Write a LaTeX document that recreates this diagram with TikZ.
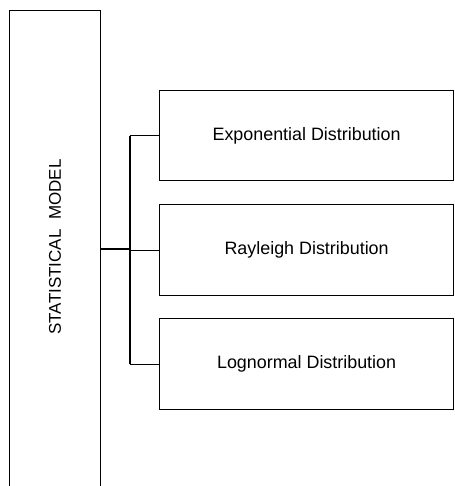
\documentclass[tikz,border=0pt]{standalone}
\usepackage{fontspec}
\setmainfont{Liberation Sans}
\begin{document}
\begin{tikzpicture}[x=1pt,y=-1pt,
  boxstyle/.style={draw=black,line width=1.2pt,rectangle,inner sep=0pt},
  conn/.style={draw=black,line width=1.2pt},
  lbl/.style={font=\fontsize{17.9}{20}\selectfont}]
\useasboundingbox (0,0) rectangle (454,486);
\clip (0,0) rectangle (454,486);
\fill[white] (0,0) rectangle (454,486);
% left box (runs off the bottom)
\node[boxstyle,minimum width=91pt,minimum height=500pt,anchor=north west] (model) at (9,10) {};
\node[font=\fontsize{17}{20}\selectfont,rotate=90] (modeltext) at (55,247) {STATISTICAL\ \ MODEL};
% right boxes
\node[boxstyle,minimum width=294pt,minimum height=90pt,anchor=north west] (expo) at (159,90) {};
\node[lbl] at (expo.center) {Exponential Distribution};
\node[boxstyle,minimum width=294pt,minimum height=91pt,anchor=north west] (rayl) at (159,204) {};
\node[lbl] at (rayl.center) {Rayleigh Distribution};
\node[boxstyle,minimum width=294pt,minimum height=91pt,anchor=north west] (logn) at (159,318) {};
\node[lbl] at (logn.center) {Lognormal Distribution};
% connectors
\coordinate (split) at (130,249);
\draw[conn] (model.east |- split) -- (split);
\draw[conn] (split |- expo.west) -- (split |- logn.west);
\draw[conn] (split |- expo.west) -- (expo.west);
\draw[conn] (split |- rayl.west) -- (rayl.west);
\draw[conn] (split |- logn.west) -- (logn.west);
\end{tikzpicture}
\end{document}
